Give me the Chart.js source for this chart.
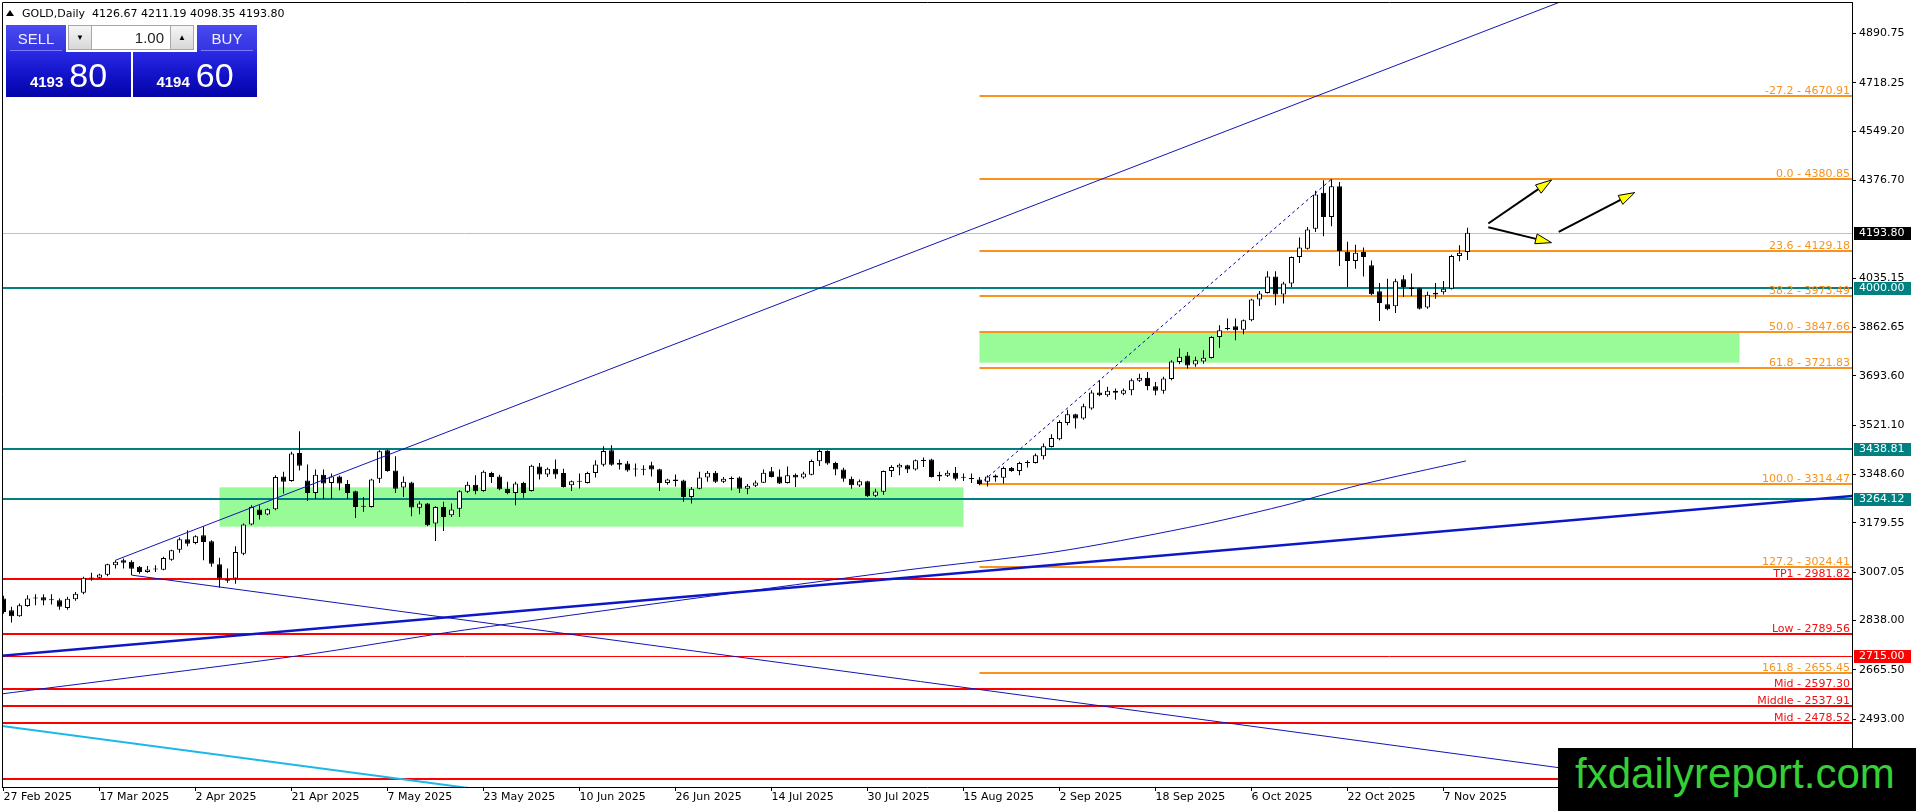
<!DOCTYPE html>
<html>
<head>
<meta charset="utf-8">
<title>GOLD, Daily</title>
<script src="https://cdn.jsdelivr.net/npm/chart.js@4.4.1/dist/chart.umd.min.js"></script>
<style>
  html, body { margin: 0; padding: 0; background: #fff; overflow: hidden; }
  #wrap { position: relative; width: 1916px; height: 811px; }
  #c { position: absolute; left: 0; top: 0; }
  #hdr { position: absolute; left: 22px; top: 7px; font: 11px 'DejaVu Sans', sans-serif; line-height: 13px; color: #000; white-space: pre; }
  #tri { position: absolute; left: 6px; top: 10px; width: 0; height: 0; border-left: 4.5px solid transparent; border-right: 4.5px solid transparent; border-bottom: 6px solid #000; }
  .box { position: absolute; top: 25px; height: 72px; background: linear-gradient(to bottom, #4a4af0 0%, #3434e2 35%, #2a2ae4 37%, #1212c8 70%, #0404a8 100%); color: #fff; font-family: 'Liberation Sans', Arial, sans-serif; }
  #sell { left: 6px; width: 125px; }
  #buy { left: 133px; width: 124px; }
  .lbl { position: absolute; top: 0; width: 60px; height: 26px; line-height: 27px; text-align: center; font-size: 15px; color: #eef; }
  .lbl::after { content: ''; position: absolute; left: 4px; right: 4px; bottom: 0; height: 1px; background: #7a7aff; }
  #sell .lbl { left: 0; }
  #buy .lbl { right: 0; }
  .quote { position: absolute; left: 0; right: 0; top: 33px; display: flex; justify-content: center; align-items: baseline; }
  .quote b { font-size: 15px; margin-right: 6px; line-height: 34px; }
  .quote span { font-size: 34px; line-height: 34px; }
  #qty { position: absolute; left: 66px; top: 23px; width: 131px; height: 29px; background: #fff; font-family: 'Liberation Sans', Arial, sans-serif; }
  #qty .btn { position: absolute; top: 2px; width: 24px; height: 25px; background: linear-gradient(#f6f6f6, #d8d8d8); border: 1px solid #a8a8a8; box-sizing: border-box; font-size: 8px; line-height: 24px; text-align: center; color: #000; }
  #qty .dn { left: 2px; }
  #qty .up { left: 104px; }
  #qty .fld { position: absolute; left: 26px; top: 2px; width: 78px; height: 25px; border-top: 1px solid #a8a8a8; border-bottom: 1px solid #a8a8a8; box-sizing: border-box; text-align: right; padding-right: 6px; font-size: 15px; line-height: 23px; color: #222; }
  #mark { position: absolute; left: 1558px; top: 748px; width: 358px; height: 63px; background: #000; color: #35d035; font: 42px 'Liberation Sans', Arial, sans-serif; line-height: 51px; padding-left: 17px; box-sizing: border-box; white-space: nowrap; }
</style>
</head>
<body>
<div id="wrap">
  <canvas id="c" width="1916" height="811"></canvas>
  <div id="tri"></div>
  <div id="hdr"></div>
  <div class="box" id="sell"><div class="lbl">SELL</div><div class="quote"><b></b><span></span></div></div>
  <div class="box" id="buy"><div class="lbl">BUY</div><div class="quote"><b></b><span></span></div></div>
  <div id="qty"><div class="btn dn">▼</div><div class="fld">1.00</div><div class="btn up">▲</div></div>
  <div id="mark">fxdailyreport.com</div>
</div>
<script>
// daily bars, 27 Feb 2025 .. 12 Nov 2025
const tickDates = ['27 Feb 2025', '17 Mar 2025', '2 Apr 2025', '21 Apr 2025', '7 May 2025', '23 May 2025',
  '10 Jun 2025', '26 Jun 2025', '14 Jul 2025', '30 Jul 2025', '15 Aug 2025', '2 Sep 2025',
  '18 Sep 2025', '6 Oct 2025', '22 Oct 2025', '7 Nov 2025'];

const opens = [
  2915, 2874, 2853, 2889, 2915, 2920, 2910, 2909, 2882, 2913,
  2935, 2988, 2988, 2998, 3031, 3049, 3044, 3026, 3008, 3017,
  3016, 3051, 3086, 3122, 3109, 3136, 3115, 3035, 2984, 2985,
  3072, 3174, 3226, 3209, 3227, 3342, 3326, 3424, 3328, 3284,
  3348, 3319, 3342, 3315, 3290, 3236, 3235, 3334, 3433, 3363,
  3303, 3321, 3232, 3247, 3177, 3235, 3206, 3229, 3288, 3313,
  3291, 3354, 3342, 3299, 3284, 3319, 3291, 3377, 3349, 3369,
  3354, 3311, 3323, 3319, 3354, 3383, 3433, 3389, 3387, 3367,
  3369, 3381, 3367, 3319, 3331, 3328, 3270, 3299, 3338, 3355,
  3323, 3334, 3338, 3299, 3309, 3320, 3360, 3342, 3319, 3348,
  3338, 3348, 3395, 3431, 3389, 3366, 3334, 3310, 3325, 3274,
  3288, 3361, 3373, 3381, 3366, 3398, 3401, 3348, 3344, 3355,
  3338, 3335, 3331, 3323, 3345, 3337, 3371, 3361, 3392, 3389,
  3412, 3445, 3472, 3529, 3559, 3544, 3579, 3635, 3626, 3641,
  3631, 3643, 3676, 3687, 3657, 3641, 3682, 3742, 3765, 3733,
  3744, 3756, 3829, 3861, 3867, 3855, 3888, 3960, 3983, 4041,
  3978, 4016, 4109, 4138, 4208, 4333, 4249, 4356, 4127, 4095,
  4126, 4080, 3989, 3944, 3937, 4031, 4002, 4000, 3932, 3978,
  3986, 3998, 4112, 4126.67];
const highs = [
  2925, 2886, 2898, 2927, 2930, 2930, 2930, 2915, 2921, 2938,
  2991, 3005, 3002, 3037, 3049, 3055, 3049, 3029, 3029, 3031,
  3061, 3086, 3128, 3154, 3136, 3168, 3119, 3058, 3020, 3098,
  3177, 3241, 3241, 3230, 3346, 3358, 3428, 3500, 3384, 3366,
  3366, 3352, 3345, 3329, 3292, 3270, 3334, 3433, 3436, 3412,
  3342, 3323, 3255, 3249, 3238, 3253, 3247, 3294, 3323, 3346,
  3363, 3358, 3348, 3323, 3323, 3323, 3383, 3389, 3373, 3401,
  3369, 3328, 3352, 3358, 3398, 3447, 3451, 3401, 3396, 3387,
  3381, 3393, 3369, 3334, 3349, 3330, 3305, 3358, 3361, 3361,
  3340, 3342, 3342, 3315, 3328, 3366, 3375, 3366, 3377, 3352,
  3358, 3401, 3436, 3433, 3393, 3372, 3342, 3331, 3327, 3299,
  3363, 3381, 3387, 3383, 3401, 3408, 3404, 3358, 3363, 3375,
  3352, 3352, 3340, 3346, 3349, 3377, 3375, 3393, 3398, 3422,
  3457, 3489, 3538, 3575, 3561, 3596, 3643, 3678, 3655, 3649,
  3649, 3684, 3701, 3707, 3672, 3690, 3748, 3789, 3777, 3760,
  3783, 3832, 3870, 3894, 3894, 3890, 3963, 3990, 4059, 4059,
  4022, 4111, 4177, 4214, 4340, 4377, 4381, 4371, 4162, 4152,
  4142, 4097, 4018, 4033, 4033, 4045, 4051, 4002, 3987, 4018,
  4025, 4117, 4150, 4211.19];
const lows = [
  2862, 2831, 2851, 2886, 2892, 2892, 2894, 2876, 2876, 2907,
  2930, 2977, 2985, 2993, 3020, 3020, 2997, 3002, 3005, 3008,
  3014, 3047, 3075, 3098, 3105, 3049, 3026, 2953, 2970, 2967,
  3066, 3171, 3191, 3206, 3224, 3282, 3323, 3363, 3256, 3264,
  3264, 3264, 3294, 3264, 3197, 3218, 3233, 3319, 3358, 3284,
  3270, 3203, 3210, 3168, 3116, 3151, 3200, 3200, 3284, 3280,
  3288, 3319, 3294, 3280, 3241, 3267, 3289, 3331, 3340, 3334,
  3303, 3291, 3300, 3317, 3338, 3377, 3379, 3366, 3358, 3342,
  3346, 3342, 3291, 3313, 3307, 3253, 3247, 3297, 3323, 3319,
  3319, 3294, 3284, 3280, 3305, 3319, 3338, 3315, 3317, 3305,
  3334, 3346, 3378, 3383, 3346, 3323, 3299, 3305, 3270, 3270,
  3278, 3340, 3346, 3354, 3363, 3375, 3338, 3326, 3340, 3328,
  3326, 3319, 3311, 3307, 3323, 3317, 3358, 3346, 3373, 3387,
  3401, 3443, 3468, 3521, 3509, 3540, 3575, 3622, 3620, 3610,
  3626, 3626, 3672, 3643, 3626, 3631, 3678, 3734, 3719, 3725,
  3736, 3754, 3792, 3853, 3818, 3839, 3884, 3938, 3981, 3940,
  3946, 4004, 4088, 4135, 4196, 4181, 4216, 4077, 4004, 4068,
  4041, 3975, 3885, 3923, 3913, 3969, 3972, 3925, 3928, 3963,
  3978, 3995, 4094, 4098.35];
const closes = [
  2868, 2853, 2892, 2915, 2919, 2908, 2909, 2886, 2914, 2932,
  2988, 2985, 2999, 3035, 3044, 3040, 3019, 3008, 3017, 3020,
  3057, 3084, 3122, 3107, 3133, 3113, 3037, 2985, 2977, 3078,
  3174, 3235, 3206, 3227, 3340, 3323, 3422, 3379, 3284, 3348,
  3317, 3342, 3317, 3284, 3235, 3238, 3331, 3430, 3361, 3299,
  3323, 3233, 3247, 3171, 3235, 3200, 3226, 3290, 3313, 3290,
  3358, 3340, 3297, 3284, 3317, 3284, 3379, 3349, 3369, 3349,
  3305, 3325, 3324, 3354, 3384, 3431, 3383, 3383, 3363, 3366,
  3365, 3366, 3319, 3331, 3326, 3270, 3299, 3338, 3355, 3323,
  3334, 3333, 3299, 3309, 3321, 3355, 3340, 3317, 3346, 3338,
  3352, 3396, 3431, 3387, 3366, 3334, 3311, 3325, 3273, 3289,
  3361, 3375, 3383, 3366, 3398, 3396, 3340, 3342, 3355, 3334,
  3337, 3333, 3315, 3342, 3338, 3371, 3361, 3389, 3389, 3416,
  3447, 3476, 3532, 3559, 3544, 3587, 3635, 3626, 3641, 3634,
  3643, 3678, 3687, 3658, 3641, 3684, 3744, 3760, 3730, 3748,
  3757, 3829, 3853, 3857, 3853, 3888, 3960, 3981, 4041, 3978,
  4016, 4109, 4142, 4205, 4327, 4249, 4356, 4130, 4095, 4124,
  4109, 3979, 3948, 3926, 4024, 4004, 3997, 3928, 3977, 3984,
  3998, 4112, 4124, 4193.80];

const priceTicks = [4890.75, 4718.25, 4549.20, 4376.70, 4035.15, 3862.65, 3693.60, 3521.10,
  3348.60, 3179.55, 3007.05, 2838.00, 2665.50, 2493.00, 2320.50];

// fibonacci from the 19 Aug low to the 20 Oct high
const fibLevels = [-27.2, 0.0, 23.6, 38.2, 50.0, 61.8, 100.0, 127.2, 161.8];
const fibPrices = [4670.91, 4380.85, 4129.18, 3973.49, 3847.66, 3721.83, 3314.47, 3024.41, 2655.45];
const fibFrom = [122, 3314.47];
const fibTo = [166, 4380.85];

const levelNames = ['TP1', 'Low', 'Mid', 'Middle', 'Mid', ''];
const levelPrices = [2981.82, 2789.56, 2597.30, 2537.91, 2478.52, 2285.30];
const tealPrices = [4000.00, 3438.81, 3264.12];
const alertPrice = 2715.00;
const bid = 4193.80;
const ask = 4194.60;

const zoneFrom = [27, 122];
const zoneTo = [120, 217];
const zoneTop = [3303.8, 3847.66];
const zoneBottom = [3166.2, 3739.4];

// trend lines: two anchors each (bar index, price)
const channelTop = [[14, 3049], [194, 4994]];
const supportDown = [[16, 2997], [27, 2955.5]];
const baseLine = [[-0.4, 2715], [228.3, 3266.6]];
const cyanLine = [[-0.4, 2470.6], [56.2, 2260]];
const curveLine = [[-1, 2579], [36.6, 2714], [57.6, 2805], [112.1, 3012], [131.2, 3077],
  [148, 3163], [159.9, 3239], [169.5, 3312], [182.8, 3396]];

const arrowTails = [[185.6, 4226], [185.6, 4213], [194.4, 4197]];
const arrowTips = [[193.5, 4378], [193.5, 4159], [203.9, 4334]];

const last = closes.length - 1;
document.getElementById('hdr').textContent = 'GOLD,Daily  ' +
  [opens[last], highs[last], lows[last], closes[last]].map(v => v.toFixed(2)).join(' ');

function fillQuote(id, price) {
  const parts = price.toFixed(2).split('.');
  const q = document.querySelector('#' + id + ' .quote');
  q.querySelector('b').textContent = parts[0];
  q.querySelector('span').textContent = parts[1];
}
fillQuote('sell', bid);
fillQuote('buy', ask);

function ray(a, b, x0, x1) {
  const k = (b[1] - a[1]) / (b[0] - a[0]);
  return [{ x: x0, y: a[1] + k * (x0 - a[0]) }, { x: x1, y: a[1] + k * (x1 - a[0]) }];
}

function hline(ctx, py, x0, x1, color, w) {
  const yy = w % 2 ? Math.round(py) + 0.5 : Math.round(py);
  ctx.strokeStyle = color;
  ctx.lineWidth = w;
  ctx.beginPath();
  ctx.moveTo(x0, yy);
  ctx.lineTo(x1, yy);
  ctx.stroke();
  return yy;
}

const FONT = '11px "DejaVu Sans"';
const ORANGE = '#f7931e';

const drawings = {
  id: 'drawings',
  beforeDatasetsDraw(chart) {
    const { ctx, chartArea: a, scales: { x, y } } = chart;
    ctx.save();
    ctx.beginPath();
    ctx.rect(a.left, a.top, a.right - a.left, a.bottom - a.top);
    ctx.clip();
    ctx.fillStyle = '#98fb98';
    zoneFrom.forEach((f, k) => {
      const x1 = x.getPixelForValue(f), x2 = x.getPixelForValue(zoneTo[k]);
      const y1 = y.getPixelForValue(zoneTop[k]), y2 = y.getPixelForValue(zoneBottom[k]);
      ctx.fillRect(x1, y1, x2 - x1, y2 - y1);
    });
    hline(ctx, y.getPixelForValue(bid), a.left, a.right, '#c0c0c0', 1);
    hline(ctx, y.getPixelForValue(alertPrice), a.left, a.right, '#ff0000', 1);
    levelPrices.forEach(p => hline(ctx, y.getPixelForValue(p), a.left, a.right, '#ff0000', 2));
    const fx = x.getPixelForValue(fibFrom[0]);
    fibPrices.forEach(p => hline(ctx, y.getPixelForValue(p), fx, a.right, ORANGE, 2));
    tealPrices.forEach(p => hline(ctx, y.getPixelForValue(p), a.left, a.right, '#008080', 2));
    ctx.restore();
  },
  afterDatasetsDraw(chart) {
    const { ctx, chartArea: a, scales: { x, y } } = chart;
    ctx.save();
    ctx.font = FONT;
    ctx.textAlign = 'right';
    ctx.textBaseline = 'alphabetic';
    ctx.fillStyle = ORANGE;
    fibPrices.forEach((p, k) => {
      const yy = Math.round(y.getPixelForValue(p));
      ctx.fillText(fibLevels[k].toFixed(1) + ' - ' + p.toFixed(2), a.right - 2, yy - 2);
    });
    ctx.fillStyle = '#ee1111';
    levelPrices.forEach((p, k) => {
      if (!levelNames[k]) return;
      const yy = Math.round(y.getPixelForValue(p));
      ctx.fillText(levelNames[k] + ' - ' + p.toFixed(2), a.right - 2, yy - 2);
    });

    // arrows
    arrowTails.forEach((t, k) => {
      const x0 = x.getPixelForValue(t[0]), y0 = y.getPixelForValue(t[1]);
      const x1 = x.getPixelForValue(arrowTips[k][0]), y1 = y.getPixelForValue(arrowTips[k][1]);
      const ang = Math.atan2(y1 - y0, x1 - x0);
      const len = 16, half = 5;
      const bx = x1 - len * Math.cos(ang), by = y1 - len * Math.sin(ang);
      ctx.strokeStyle = '#000';
      ctx.lineWidth = 2;
      ctx.beginPath();
      ctx.moveTo(x0, y0);
      ctx.lineTo(bx, by);
      ctx.stroke();
      ctx.beginPath();
      ctx.moveTo(x1, y1);
      ctx.lineTo(bx + half * Math.sin(ang), by - half * Math.cos(ang));
      ctx.lineTo(bx - half * Math.sin(ang), by + half * Math.cos(ang));
      ctx.closePath();
      ctx.fillStyle = '#ffff00';
      ctx.fill();
      ctx.lineWidth = 1;
      ctx.stroke();
    });
    ctx.restore();
  },
  afterDraw(chart) {
    const { ctx, chartArea: a, scales: { y } } = chart;
    ctx.save();
    ctx.strokeStyle = '#000';
    ctx.lineWidth = 1;
    ctx.beginPath();
    ctx.moveTo(a.left + 0.5, a.bottom);
    ctx.lineTo(a.left + 0.5, a.top + 0.5);
    ctx.lineTo(a.right, a.top + 0.5);
    ctx.stroke();

    // price badges on the axis
    const badges = [[bid, '#000000'], [tealPrices[0], '#008080'], [tealPrices[1], '#008080'],
      [tealPrices[2], '#008080'], [alertPrice, '#ff0000']];
    ctx.font = FONT;
    ctx.textAlign = 'left';
    ctx.textBaseline = 'middle';
    badges.forEach(([p, col]) => {
      const yy = Math.round(y.getPixelForValue(p));
      ctx.fillStyle = col;
      ctx.fillRect(a.right + 2, yy - 6, 57, 13);
      ctx.fillStyle = '#fff';
      ctx.fillText(p.toFixed(2), a.right + 7, yy + 0.5);
    });
    ctx.restore();
  }
};

const idx = closes.map((_, i) => i);
const bodies = idx.map(i => ({ x: i, y: [opens[i], closes[i]] }));
const wicks = idx.map(i => ({ x: i, y: [lows[i], highs[i]] }));
const bodyColors = idx.map(i => closes[i] >= opens[i] ? '#ffffff' : '#000000');

const lineSet = (data, color, width, extra) => Object.assign({
  type: 'line', data, borderColor: color, borderWidth: width, pointRadius: 0,
  fill: false, tension: 0, order: 0
}, extra || {});

Chart.defaults.font.family = 'DejaVu Sans';
Chart.defaults.font.size = 11;
Chart.defaults.color = '#000';

new Chart(document.getElementById('c'), {
  type: 'bar',
  data: {
    datasets: [
      {
        data: bodies, backgroundColor: bodyColors, borderColor: '#000', borderWidth: 1,
        borderSkipped: false, grouped: false, maxBarThickness: 5, minBarLength: 1,
        inflateAmount: 0, order: 1
      },
      {
        data: wicks, backgroundColor: '#000', borderWidth: 0, grouped: false,
        maxBarThickness: 1, inflateAmount: 0, order: 2
      },
      lineSet(ray(channelTop[0], channelTop[1], channelTop[0][0], 240), '#1414b4', 1),
      lineSet(ray(supportDown[0], supportDown[1], supportDown[0][0], 240), '#1414b4', 1),
      lineSet(ray(baseLine[0], baseLine[1], -1, 240), '#0c18c8', 2.5),
      lineSet(ray(cyanLine[0], cyanLine[1], -1, 80), '#1ab8e8', 2),
      lineSet(curveLine.map(p => ({ x: p[0], y: p[1] })), '#1414b4', 1, { tension: 0.3 }),
      lineSet([{ x: fibFrom[0], y: fibFrom[1] }, { x: fibTo[0], y: fibTo[1] }], '#0000a0', 1, { borderDash: [3, 3] })
    ]
  },
  options: {
    responsive: false,
    animation: false,
    events: [],
    layout: { padding: { left: 2, top: 2, right: 0, bottom: 0 } },
    plugins: { legend: { display: false }, tooltip: { enabled: false } },
    scales: {
      x: {
        type: 'linear', min: -0.1875, max: 231.0625, offset: false, bounds: 'data',
        grid: { drawOnChartArea: false, drawTicks: true, tickLength: 4, color: '#000', offset: false },
        border: { display: true, color: '#000' },
        ticks: {
          autoSkip: false, maxRotation: 0, minRotation: 0, align: 'start', padding: 0, color: '#000',
          callback: (v, k) => tickDates[k]
        },
        afterBuildTicks: s => { s.ticks = tickDates.map((_, k) => ({ value: k * 12 })); },
        afterFit: s => { s.height = 24; s.paddingLeft = 0; s.paddingRight = 0; }
      },
      y: {
        type: 'linear', position: 'right', min: 2256.35, max: 5000.15, bounds: 'data',
        grid: { drawOnChartArea: false, drawTicks: true, tickLength: 4, color: '#000' },
        border: { display: true, color: '#000' },
        ticks: { padding: 3, color: '#000', callback: v => Number(v).toFixed(2) },
        afterBuildTicks: s => { s.ticks = priceTicks.map(v => ({ value: v })); },
        afterFit: s => { s.width = 64; s.paddingTop = 0; s.paddingBottom = 0; }
      }
    }
  },
  plugins: [drawings]
});
</script>
</body>
</html>
